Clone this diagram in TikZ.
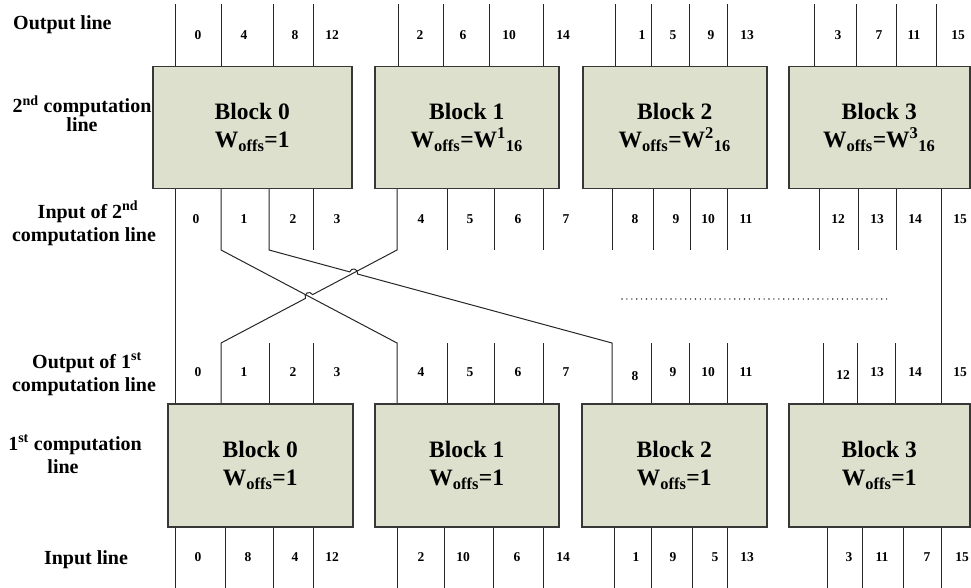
\documentclass[tikz,border=0pt]{standalone}
\usepackage{fontspec}
\setmainfont{Liberation Serif}
\usetikzlibrary{calc}
\definecolor{blkfill}{RGB}{220,224,204}
\definecolor{blkline}{RGB}{55,55,55}
\begin{document}
\begin{tikzpicture}[x=1pt,y=-1pt,
  wire/.style={line width=1pt, draw=black!85},
  blk/.style={draw=blkline, line width=1.5pt, fill=blkfill, anchor=north west,
    inner sep=0pt, align=center, font=\fontsize{23.5}{28}\selectfont\bfseries},
  num/.style={inner sep=0pt, font=\fontsize{13.5}{16}\selectfont\bfseries},
  rowlab/.style={inner sep=0pt, anchor=base, font=\fontsize{20}{24}\selectfont\bfseries},
  dotline/.style={line width=1.6pt, line cap=round, dash pattern=on 0pt off 4.9pt, draw=black!80}]
\useasboundingbox (0,0) rectangle (971,588);

% ---- row labels ----
\node[rowlab, anchor=base west] (rOut) at (13,29.5) {Output line};
\node[rowlab] (r2a) at (82,113) {2\textsuperscript{nd} computation};
\node[rowlab] (r2b) at (82,132) {line};
\node[rowlab] (rIa) at (88,218.3) {Input of 2\textsuperscript{nd}};
\node[rowlab] (rIb) at (84,241.7) {computation line};
\node[rowlab] (rOa) at (87,368) {Output of 1\textsuperscript{st}};
\node[rowlab] (rOb) at (84,391.5) {computation line};
\node[rowlab] (r1a) at (75,450) {1\textsuperscript{st} computation};
\node[rowlab] (r1b) at (63,473.3) {line};
\node[rowlab] (rIn) at (86,564) {Input line};

% ---- stubs (drawn first, blocks cover ends) ----
\foreach \x [count=\i] in {175,221,273,313,398,443,489,543,615,651,689,727,814,856,896,936}
  {\coordinate (ua\i) at (\x,4); \coordinate (ub\i) at (\x,66); \draw[wire] (ua\i) -- (ub\i);}
\foreach \x [count=\i] in {313,447,494,543,612,653,690,727,819,858,896}
  {\coordinate (ma\i) at (\x,188); \coordinate (mb\i) at (\x,250); \draw[wire] (ma\i) -- (mb\i);}
\foreach \x [count=\i] in {269,313,447,494,543,651,689,727,823,857,895}
  {\coordinate (na\i) at (\x,343); \coordinate (nb\i) at (\x,403); \draw[wire] (na\i) -- (nb\i);}
\foreach \x [count=\i] in {175,225,273,313,397,444,493,543,614,651,692,727,827,862,903,941}
  {\coordinate (la\i) at (\x,526); \coordinate (lb\i) at (\x,588); \draw[wire] (la\i) -- (lb\i);}

% ---- long connections ----
\coordinate (s0t) at (175,188); \coordinate (s0b) at (175,403);
\coordinate (s15t) at (941,188); \coordinate (s15b) at (941,403);
\draw[wire] (s0t) -- (s0b);
\draw[wire] (s15t) -- (s15b);

\coordinate (at) at (221,188); \coordinate (a1) at (221,250); \coordinate (a2) at (397,343); \coordinate (ab) at (397,403);
\coordinate (bt) at (397,188); \coordinate (b1) at (397,250); \coordinate (b2) at (221,343); \coordinate (bb) at (221,403);
\coordinate (ct) at (269,188); \coordinate (c1) at (269,250); \coordinate (c2) at (612,343); \coordinate (cb) at (612,403);

\coordinate (X1) at (intersection of a1--a2 and b1--b2);
\coordinate (X2) at (intersection of b1--b2 and c1--c2);
\coordinate (X1s) at ($(X1)!4pt!(b1)$);
\coordinate (X1e) at ($(X1)!4pt!(b2)$);
\coordinate (X2s) at ($(X2)!4pt!(c1)$);
\coordinate (X2e) at ($(X2)!4pt!(c2)$);

\draw[wire] (at) -- (a1) -- (a2) -- (ab);
\draw[wire] (bt) -- (b1) -- (X1s)
   .. controls ($(X1s)!5.33pt!-90:(X1)$) and ($(X1e)!5.33pt!90:(X1)$) .. (X1e)
   -- (b2) -- (bb);
\draw[wire] (ct) -- (c1) -- (X2s)
   .. controls ($(X2s)!5.33pt!90:(X2)$) and ($(X2e)!5.33pt!-90:(X2)$) .. (X2e)
   -- (c2) -- (cb);

% dotted line
\coordinate (d1) at (622,299); \coordinate (d2) at (891,299);
\draw[dotline] (d1) -- (d2);

% ---- blocks ----
\node[blk, minimum width=199pt, minimum height=122pt] (T0) at (152,66) {Block 0\\W\textsubscript{offs}=1};
\node[blk, minimum width=184pt, minimum height=122pt] (T1) at (374,66) {Block 1\\W\textsubscript{offs}=W\textsuperscript{1}\textsubscript{16}};
\node[blk, minimum width=184pt, minimum height=122pt] (T2) at (582,66) {Block 2\\W\textsubscript{offs}=W\textsuperscript{2}\textsubscript{16}};
\node[blk, minimum width=181pt, minimum height=122pt] (T3) at (788,66) {Block 3\\W\textsubscript{offs}=W\textsuperscript{3}\textsubscript{16}};

\node[blk, minimum width=185pt, minimum height=123pt] (B0) at (167,403) {Block 0\\W\textsubscript{offs}=1};
\node[blk, minimum width=184pt, minimum height=123pt] (B1) at (374,403) {Block 1\\W\textsubscript{offs}=1};
\node[blk, minimum width=185pt, minimum height=123pt] (B2) at (581,403) {Block 2\\W\textsubscript{offs}=1};
\node[blk, minimum width=181pt, minimum height=123pt] (B3) at (788,403) {Block 3\\W\textsubscript{offs}=1};

% ---- index labels ----
\foreach \x/\t [count=\i] in {198/0,244/4,295/8,332/12,420/2,463/6,509/10,563/14,642/1,673/5,711/9,747/13,838/3,879/7,914/11,958/15}
  \node[num] (ol\i) at (\x,34.7) {\t};
\foreach \x/\t [count=\i] in {196/0,244/1,293/2,337/3,421/4,470/5,518/6,566/7,635/8,676/9,708/10,746/11,838/12,877/13,915/14,960/15}
  \node[num] (il\i) at (\x,219) {\t};
\foreach \x/\y/\t [count=\i] in {198/372/0,244/372/1,293/372/2,337/372/3,421/372/4,470/372/5,518/372/6,566/372/7,635/376/8,673/372/9,708/372/10,746/372/11,843/375/12,877/372/13,915/372/14,960/372/15}
  \node[num] (fl\i) at (\x,\y) {\t};
\foreach \x/\t [count=\i] in {198/0,248/8,295/4,332/12,421/2,463/10,517/6,563/14,636/1,673/9,715/5,747/13,849/3,882/11,927/7,962/15}
  \node[num] (bl\i) at (\x,556.7) {\t};
\end{tikzpicture}
\end{document}
